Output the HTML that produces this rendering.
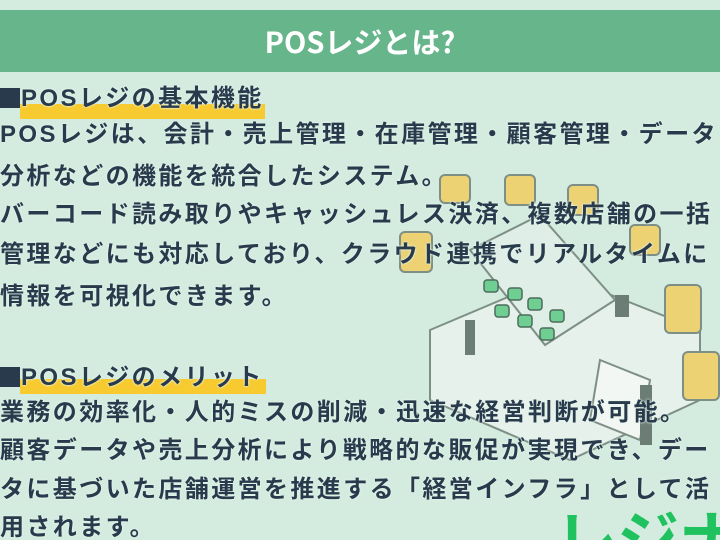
<!DOCTYPE html>
<html><head><meta charset="utf-8"><style>
html,body{margin:0;padding:0;overflow:hidden;width:720px;height:540px}
body{background:#d3ecdf;position:relative;font-family:"Liberation Sans","Noto Sans CJK JP",sans-serif}
.bar{position:absolute;left:0;top:10px;width:720px;height:62px;background:#67b58b}
.title{position:absolute;left:0;top:10px;width:720px;height:62px;line-height:62px;text-align:center;color:#fff;font-weight:bold;font-size:29px;font-family:"Noto Sans CJK JP",sans-serif}
.l{position:absolute;left:0;white-space:nowrap;font-weight:bold;font-size:24px;letter-spacing:2.4px;color:#283a4c;line-height:24px;text-shadow:0 0 2px #e4f4ea,0 0 2px #e4f4ea;z-index:2}
.sq{display:inline-block;width:20px;height:20px;background:#283a4c;vertical-align:-2px;margin-right:1px}
.hl{position:absolute;height:15px;background:#f7cb2f;z-index:1}
svg{position:absolute;left:0;top:0;z-index:0;overflow:hidden}
</style></head><body>
<div class="bar"></div><div class="title">POSレジとは?</div>
<svg width="720" height="540" viewBox="0 0 720 540">
 <g stroke="#7d8f86" stroke-width="2" fill="#e6f1eb">
  <path d="M430 330 L560 275 L700 330 L700 400 L570 460 L430 400 Z"/>
  <path d="M470 250 L540 215 L615 300 L545 345 Z" fill="#dfeee6"/>
  <rect x="440" y="175" width="30" height="28" rx="5" fill="#ecd273"/>
  <rect x="505" y="175" width="30" height="30" rx="5" fill="#ecd273"/>
  <rect x="568" y="185" width="30" height="30" rx="5" fill="#ecd273"/>
  <rect x="630" y="225" width="30" height="30" rx="5" fill="#ecd273"/>
  <rect x="665" y="285" width="36" height="48" rx="5" fill="#ecd273"/>
  <rect x="683" y="352" width="36" height="48" rx="5" fill="#ecd273"/>
  <rect x="400" y="232" width="32" height="40" rx="5" fill="#ecd273"/>
  <path d="M600 360 L650 380 L640 440 L590 420 Z" fill="#f2f7f4"/>
 </g>
 <g fill="#6fcf92" stroke="#4d6b5c" stroke-width="1.5">
  <rect x="484" y="280" width="14" height="12" rx="3"/><rect x="508" y="288" width="14" height="12" rx="3"/>
  <rect x="528" y="298" width="14" height="12" rx="3"/><rect x="550" y="310" width="14" height="12" rx="3"/>
  <rect x="495" y="305" width="14" height="12" rx="3"/><rect x="518" y="315" width="14" height="12" rx="3"/>
  <rect x="540" y="328" width="14" height="12" rx="3"/>
 </g>
 <g fill="#6b7d74"><rect x="465" y="320" width="10" height="35"/><rect x="615" y="295" width="14" height="22"/><rect x="640" y="385" width="12" height="60"/></g>
 <text x="555" y="562" font-size="62" font-weight="bold" fill="#1fc25f" font-family="Liberation Sans,Noto Sans CJK JP,sans-serif">レジナビ</text>
</svg>
<div class="hl" style="left:20px;top:104px;width:245px"></div>
<div class="l" style="top:87px"><span class="sq"></span>POSレジの基本機能</div>
<div class="l" style="top:123px">POSレジは、会計・売上管理・在庫管理・顧客管理・データ</div>
<div class="l" style="top:165px">分析などの機能を統合したシステム。</div>
<div class="l" style="top:203px">バーコード読み取りやキャッシュレス決済、複数店舗の一括</div>
<div class="l" style="top:243px">管理などにも対応しており、クラウド連携でリアルタイムに</div>
<div class="l" style="top:285px">情報を可視化できます。</div>
<div class="hl" style="left:20px;top:379px;width:246px"></div>
<div class="l" style="top:366px"><span class="sq"></span>POSレジのメリット</div>
<div class="l" style="top:401px">業務の効率化・人的ミスの削減・迅速な経営判断が可能。</div>
<div class="l" style="top:439px">顧客データや売上分析により戦略的な販促が実現でき、デー</div>
<div class="l" style="top:478px">タに基づいた店舗運営を推進する「経営インフラ」として活</div>
<div class="l" style="top:516px">用されます。</div>
</body></html>
